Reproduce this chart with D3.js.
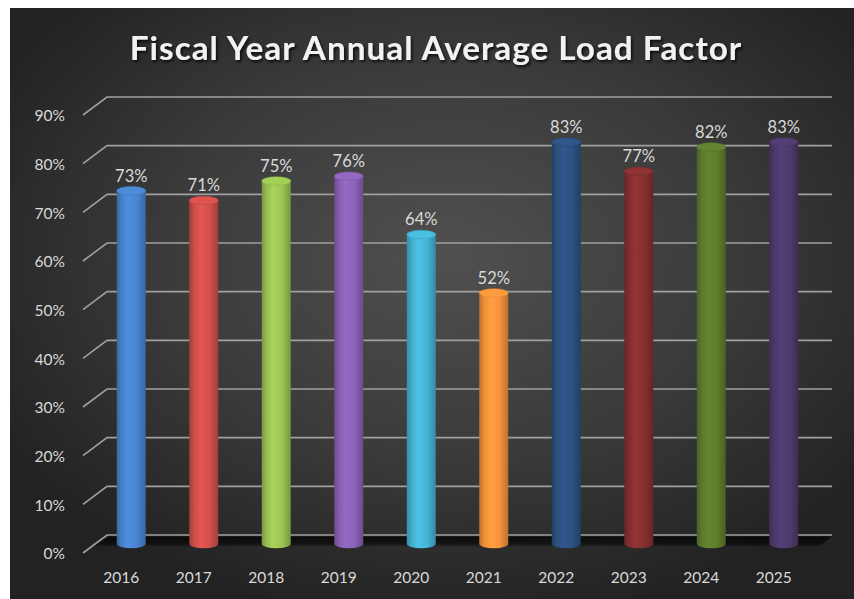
<!DOCTYPE html>
<html>
<head>
<meta charset="utf-8">
<script src="https://cdn.jsdelivr.net/npm/d3@7"></script>
<style>
  html, body { margin: 0; padding: 0; background: #ffffff; }
  svg { display: block; }
</style>
</head>
<body>
<svg id="chart" width="854" height="599"></svg>
<script>
// ---- data ----
const title = "Fiscal Year Annual Average Load Factor";
const years = ["2016","2017","2018","2019","2020","2021","2022","2023","2024","2025"];
const loadFactor = [0.73, 0.71, 0.75, 0.76, 0.64, 0.52, 0.83, 0.77, 0.82, 0.83];
const barColors = ["#4a85d0","#d4504c","#9cc553","#8b63b8","#45b5d6","#f7943c",
                   "#2d5282","#873030","#5f7d2e","#4e3b6e"];
const yTicks = [0, 0.1, 0.2, 0.3, 0.4, 0.5, 0.6, 0.7, 0.8, 0.9];

// ---- layout ----
const svg = d3.select("#chart");
const W = 854, H = 599;
const bgX = 10, bgY = 8;
const backLeft = 107, backRight = 832;
const depthDX = -24, depthDY = 18;

const yBack = d3.scaleLinear().domain([0, 0.9]).range([535, 97]);
const x = d3.scaleBand().domain(years).range([backLeft, backRight]).padding(0);
const fmt = d3.format(".0%");

const defs = svg.append("defs");

// background radial gradient
const bg = defs.append("radialGradient").attr("id", "bgGrad")
  .attr("cx", "52%").attr("cy", "42%").attr("r", "62%");
bg.append("stop").attr("offset", "0%").attr("stop-color", "#505050");
bg.append("stop").attr("offset", "55%").attr("stop-color", "#3a3a3a");
bg.append("stop").attr("offset", "100%").attr("stop-color", "#222222");

svg.append("rect").attr("x", bgX).attr("y", bgY)
  .attr("width", W - bgX).attr("height", H - bgY)
  .attr("fill", "url(#bgGrad)");

// title shadow filter
const f = defs.append("filter").attr("id", "tshadow")
  .attr("x", "-10%").attr("y", "-30%").attr("width", "120%").attr("height", "160%");
f.append("feDropShadow").attr("dx", 1.5).attr("dy", 2).attr("stdDeviation", 1.5)
  .attr("flood-color", "#000").attr("flood-opacity", 0.8);

// floor shadow gradient
const fl = defs.append("linearGradient").attr("id", "floorGrad")
  .attr("x1", 0).attr("y1", 0).attr("x2", 0).attr("y2", 1);
fl.append("stop").attr("offset", "0%").attr("stop-color", "#000").attr("stop-opacity", 0.75);
fl.append("stop").attr("offset", "70%").attr("stop-color", "#000").attr("stop-opacity", 0.55);
fl.append("stop").attr("offset", "100%").attr("stop-color", "#000").attr("stop-opacity", 0.0);

// gridlines (back wall + left diagonal)
const grid = svg.append("g");
yTicks.forEach(t => {
  const yb = yBack(t);
  grid.append("path")
    .attr("d", `M${backLeft + depthDX},${yb + depthDY} L${backLeft},${yb} L${backRight},${yb}`)
    .attr("fill", "none").attr("stroke", "#a0a0a0").attr("stroke-width", 1.6);
});

// floor shadow band
const y0 = yBack(0);
svg.append("path")
  .attr("d", `M${backLeft + 2},${y0 + 1.5} L${backRight},${y0 + 1.5} L${backRight - 14},${y0 + 12} L${backLeft - 14},${y0 + 12} Z`)
  .attr("fill", "url(#floorGrad)");

// y axis labels (front)
svg.append("g").selectAll("text").data(yTicks).join("text")
  .attr("x", backLeft + depthDX - 18)
  .attr("y", d => yBack(d) + depthDY + 1)
  .attr("dy", "0.35em")
  .attr("text-anchor", "end")
  .attr("font-family", "Lato, 'Open Sans', sans-serif")
  .attr("font-size", 15.5)
  .attr("fill", "#d9d9d9")
  .text(d => fmt(d));

// x axis labels (front)
svg.append("g").selectAll("text").data(years).join("text")
  .attr("x", d => x(d) + x.bandwidth() / 2 + depthDX + 2)
  .attr("y", 578)
  .attr("dy", "0.35em")
  .attr("text-anchor", "middle")
  .attr("font-family", "Lato, 'Open Sans', sans-serif")
  .attr("font-size", 15.5)
  .attr("fill", "#d9d9d9")
  .text(d => d);

// cylinders
const rx = 14.5, ry = 4.2;
const midDX = depthDX / 2, midDY = depthDY / 2;
const bars = svg.append("g");
years.forEach((yr, i) => {
  const c = d3.color(barColors[i]);
  const gid = "cyl" + i;
  const g = defs.append("linearGradient").attr("id", gid)
    .attr("x1", 0).attr("y1", 0).attr("x2", 1).attr("y2", 0);
  g.append("stop").attr("offset", "0%").attr("stop-color", c.darker(0.7));
  g.append("stop").attr("offset", "18%").attr("stop-color", c.darker(0.1));
  g.append("stop").attr("offset", "38%").attr("stop-color", c.brighter(0.2));
  g.append("stop").attr("offset", "70%").attr("stop-color", c);
  g.append("stop").attr("offset", "100%").attr("stop-color", c.darker(0.75));

  const cx = x(yr) + x.bandwidth() / 2 + midDX;
  const yb = yBack(0) + midDY;
  const yt = yBack(loadFactor[i]) + midDY + 2;
  bars.append("path")
    .attr("d", `M${cx - rx},${yt} L${cx - rx},${yb} A${rx},${ry} 0 0 0 ${cx + rx},${yb} L${cx + rx},${yt} Z`)
    .attr("fill", `url(#${gid})`);
  bars.append("ellipse")
    .attr("cx", cx).attr("cy", yt).attr("rx", rx).attr("ry", ry)
    .attr("fill", c.brighter(0.15)).attr("stroke", c.darker(0.3)).attr("stroke-width", 0.6);
  bars.append("text")
    .attr("x", cx).attr("y", yt - 15)
    .attr("dy", "0.35em")
    .attr("text-anchor", "middle")
    .attr("font-family", "Lato, 'Open Sans', sans-serif")
    .attr("font-size", 16.5)
    .attr("fill", "#d9d9d9")
    .text(fmt(loadFactor[i]));
});

// title
const t = svg.append("text")
  .attr("x", 436).attr("y", 48).attr("dy", "0.35em")
  .attr("text-anchor", "middle")
  .attr("font-family", "Lato, 'Open Sans', sans-serif")
  .attr("font-weight", "bold")
  .attr("letter-spacing", 1)
  .attr("font-size", 30)
  .attr("fill", "#f2f2f2")
  .attr("filter", "url(#tshadow)")
  .text(title);
const len = t.node().getComputedTextLength();
t.attr("font-size", 30 * 617 / len);
</script>
</body>
</html>
